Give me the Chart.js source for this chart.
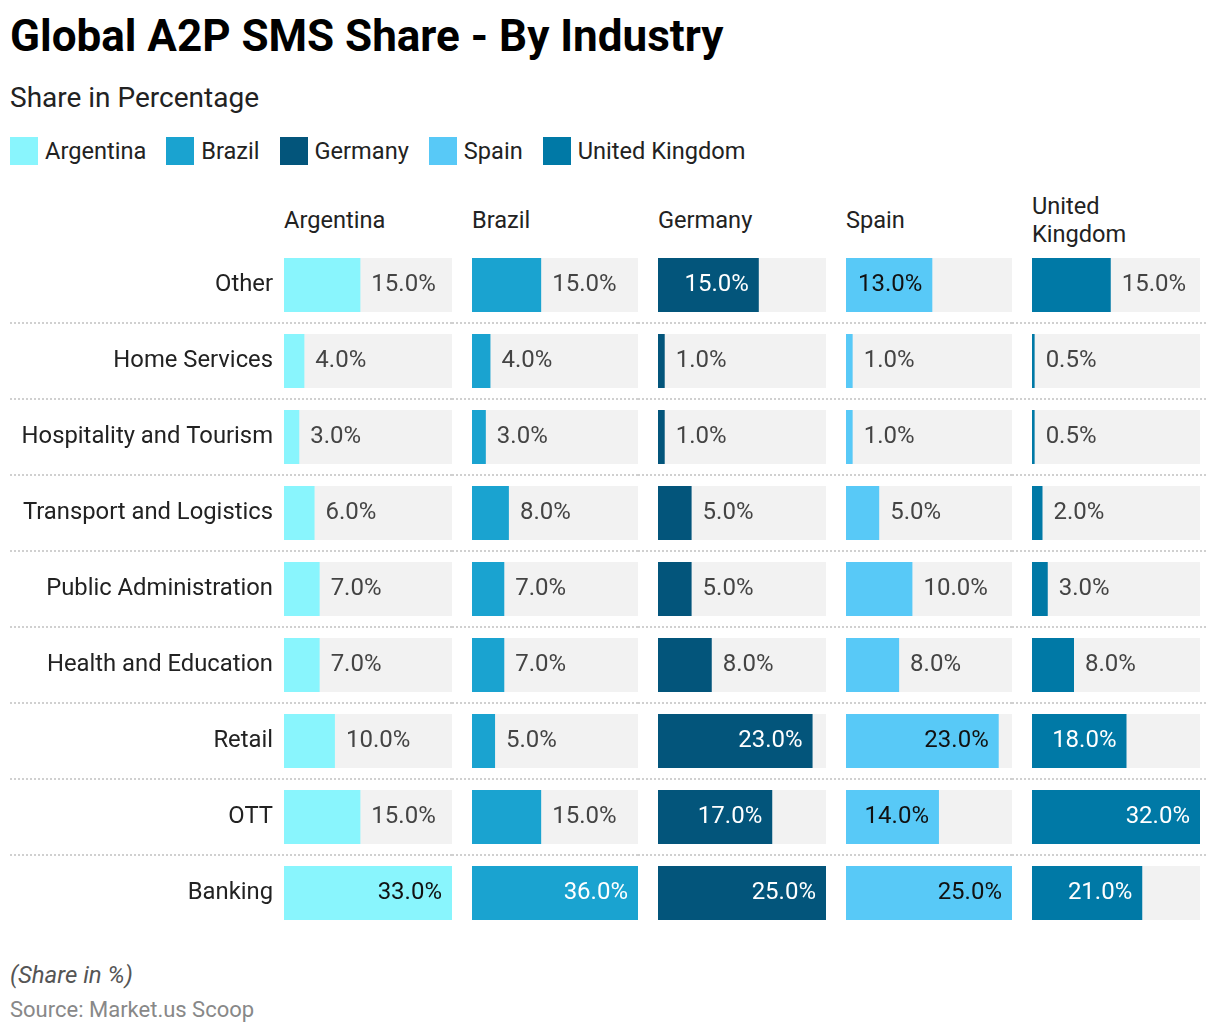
<!DOCTYPE html>
<html>
<head>
<meta charset="utf-8">
<script src="https://cdn.jsdelivr.net/npm/chart.js@4.4.1/dist/chart.umd.min.js"></script>
<style>
  body { margin: 0; background: #fff; font-family: Roboto, sans-serif; color: #222; }
  #page { position: relative; width: 1220px; height: 1036px; overflow: hidden; }
  .abs { position: absolute; line-height: 1; white-space: nowrap; }
  #title { left: 10px; top: 14px; font-size: 44px; font-weight: 700; color: #000; }
  #subtitle { left: 10px; top: 84px; font-size: 28px; color: #222; }
  #legend { position: absolute; left: 10px; top: 137px; display: flex; align-items: center; height: 28px; font-size: 23.6px; }
  #legend .item { display: flex; align-items: center; margin-right: 20px; }
  #legend .sw { width: 28px; height: 28px; margin-right: 7px; }
  .head { position: absolute; top: 190px; height: 60px; display: flex; align-items: center; font-size: 23.6px; line-height: 28px; color: #222; }
  .panel { position: absolute; top: 247px; height: 684px; }
  #note { left: 10px; top: 963px; font-size: 24px; font-style: italic; color: #555; }
  #source { left: 10px; top: 999px; font-size: 22px; color: #888; }
</style>
</head>
<body>
<div id="page">
  <div class="abs" id="title">Global A2P SMS Share - By Industry</div>
  <div class="abs" id="subtitle">Share in Percentage</div>
  <div id="legend"></div>
  <div class="abs" id="note">(Share in %)</div>
  <div class="abs" id="source">Source: Market.us Scoop</div>
</div>
<script>
/* ── data ── */
const industries = ['Other', 'Home Services', 'Hospitality and Tourism', 'Transport and Logistics',
  'Public Administration', 'Health and Education', 'Retail', 'OTT', 'Banking'];
const countries = ['Argentina', 'Brazil', 'Germany', 'Spain', 'United Kingdom'];
const headerLines = [['Argentina'], ['Brazil'], ['Germany'], ['Spain'], ['United', 'Kingdom']];
const argentina = [15, 4, 3, 6, 7, 7, 10, 15, 33];
const brazil    = [15, 4, 3, 8, 7, 7, 5, 15, 36];
const germany   = [15, 1, 1, 5, 5, 8, 23, 17, 25];
const spain     = [13, 1, 1, 5, 10, 8, 23, 14, 25];
const uk        = [15, 0.5, 0.5, 2, 3, 8, 18, 32, 21];
const series = [argentina, brazil, germany, spain, uk];

/* ── styles ── */
const colors = ['#89f5fd', '#1aa3d0', '#03557b', '#58c9f7', '#0079a6'];
const insideText = ['#111', '#fff', '#fff', '#111', '#fff'];
const panelLeft = [284, 472, 658, 846, 1032];
const panelW = [168, 166, 168, 166, 168];

Chart.defaults.font.family = 'Roboto, sans-serif';

const page = document.getElementById('page');
const legend = document.getElementById('legend');
countries.forEach((c, k) => {
  legend.insertAdjacentHTML('beforeend',
    `<div class="item"><div class="sw" style="background:${colors[k]}"></div><span>${c}</span></div>`);
  page.insertAdjacentHTML('beforeend',
    `<div class="head" style="left:${panelLeft[k]}px"><div>${headerLines[k].join('<br>')}</div></div>`);
});

/* dotted separators across the whole canvas, between categories */
const rowLines = {
  id: 'rowLines',
  beforeDatasetsDraw(chart) {
    const y = chart.scales.y, ctx = chart.ctx;
    ctx.save();
    ctx.strokeStyle = '#d0d0d0'; ctx.lineWidth = 2; ctx.setLineDash([2, 2]);
    for (let i = 0; i < industries.length - 1; i++) {
      const py = Math.round((y.getPixelForValue(i) + y.getPixelForValue(i + 1)) / 2);
      ctx.beginPath(); ctx.moveTo(0, py); ctx.lineTo(chart.width, py); ctx.stroke();
    }
    ctx.restore();
  }
};

/* value labels: inside the bar end when it fits, else just past it */
const valueLabels = {
  id: 'valueLabels',
  afterDatasetsDraw(chart, args, opts) {
    const meta = chart.getDatasetMeta(0), ctx = chart.ctx;
    const vals = chart.data.datasets[0].data;
    ctx.save();
    ctx.font = '24px Roboto, sans-serif';
    ctx.textBaseline = 'middle';
    meta.data.forEach((bar, i) => {
      const txt = vals[i].toFixed(1) + '%';
      const w = ctx.measureText(txt).width;
      if (bar.x - bar.base >= w + 20) {
        ctx.textAlign = 'right'; ctx.fillStyle = opts.inside;
        ctx.fillText(txt, bar.x - 10, bar.y);
      } else {
        ctx.textAlign = 'left'; ctx.fillStyle = '#444';
        ctx.fillText(txt, bar.x + 11, bar.y);
      }
    });
    ctx.restore();
  }
};

series.forEach((data, k) => {
  const first = k === 0, last = k === series.length - 1;
  const gap = first ? 0 : panelLeft[k] - (panelLeft[k - 1] + panelW[k - 1]);
  const left = first ? 10 : panelLeft[k] - gap;
  const width = first ? panelLeft[0] + panelW[0] - 10 : gap + panelW[k] + (last ? 8 : 0);
  const wrap = document.createElement('div');
  wrap.className = 'panel';
  wrap.style.left = left + 'px';
  wrap.style.width = width + 'px';
  const cv = document.createElement('canvas');
  wrap.appendChild(cv);
  page.appendChild(wrap);

  const max = Math.max(...data);
  const yAxis = {
    display: first,
    grid: { display: false, drawTicks: false }, border: { display: false },
    ticks: { font: { size: 23.8 }, color: '#222', padding: 11 }
  };
  if (first) yAxis.afterFit = s => { s.width = panelLeft[0] - 10; s.paddingTop = 0; s.paddingBottom = 0; };

  new Chart(cv, {
    type: 'bar',
    data: {
      labels: industries,
      datasets: [
        { data: data, backgroundColor: colors[k], order: 0 },
        { data: data.map(() => max), backgroundColor: '#f2f2f2', order: 1 }
      ]
    },
    options: {
      indexAxis: 'y',
      responsive: true, maintainAspectRatio: false, animation: false,
      layout: { padding: { left: gap, right: last ? 8 : 0, top: 0, bottom: 0 } },
      datasets: { bar: { grouped: false, barPercentage: 0.71, categoryPercentage: 1, borderWidth: 0 } },
      plugins: { legend: { display: false }, tooltip: { enabled: false }, valueLabels: { inside: insideText[k] } },
      scales: {
        x: { type: 'linear', min: 0, max: max, display: false },
        y: yAxis
      }
    },
    plugins: [rowLines, valueLabels]
  });
});
</script>
</body>
</html>
